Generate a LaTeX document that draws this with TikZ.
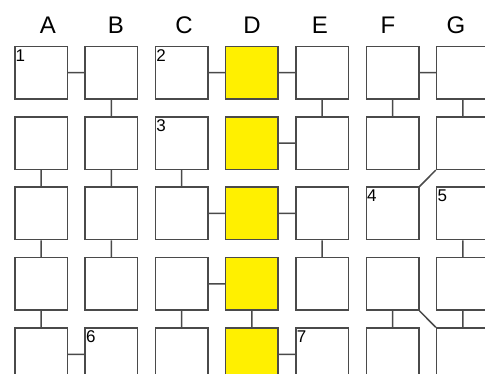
\documentclass[tikz,border=0pt]{standalone}
\usepackage{fontspec}
\setmainfont{Liberation Sans}
\usepackage{tikz}
\definecolor{cellline}{HTML}{4A4A4A}
\definecolor{cellhi}{HTML}{FFF000}

\begin{document}
\begin{tikzpicture}[x=1pt,y=-1pt,
  cell/.style={draw=cellline,line width=1.5pt,minimum size=52.5pt,inner sep=0pt},
  link/.style={draw=cellline,line width=1.5pt},
  colname/.style={font=\fontsize{24}{24}\selectfont,inner sep=0pt},
  cellno/.style={anchor=north west,inner xsep=1.5pt,inner ysep=3.5pt,font=\fontsize{17}{17}\selectfont}]
\useasboundingbox (0,0) rectangle (485,374);
\clip (0,0) rectangle (485,374);
% grid of cells, column D highlighted
\foreach \c/\f [count=\i from 0] in {A/white,B/white,C/white,D/cellhi,E/white,F/white,G/white}{
  \node[colname] (lab\c) at (48+68*\i,25) {\c};
  \foreach \r in {1,...,5}
    \node[cell,fill=\f] (\c\r) at (41+70.3*\i,72.7+70.4*\r-70.4) {};
}
\draw[link] (A1)--(B1) (C1)--(D1) (D1)--(E1) (F1)--(G1)
  (B1)--(B2) (E1)--(E2) (F1)--(F2) (G1)--(G2)
  (D2)--(E2) (A2)--(A3) (B2)--(B3) (C2)--(C3) (G2.south west)--(F3.north east)
  (C3)--(D3) (D3)--(E3) (A3)--(A4) (B3)--(B4) (E3)--(E4) (G3)--(G4)
  (C4)--(D4) (F4.south east)--(G5.north west) (A4)--(A5) (C4)--(C5) (D4)--(D5) (F4)--(F5) (G4)--(G5)
  (A5)--(B5) (D5)--(E5);
\foreach \b/\n in {A1/1,C1/2,C2/3,F3/4,G3/5,B5/6,E5/7}
  \node[cellno] (no\n) at (\b.north west) {\n};
\end{tikzpicture}
\end{document}
